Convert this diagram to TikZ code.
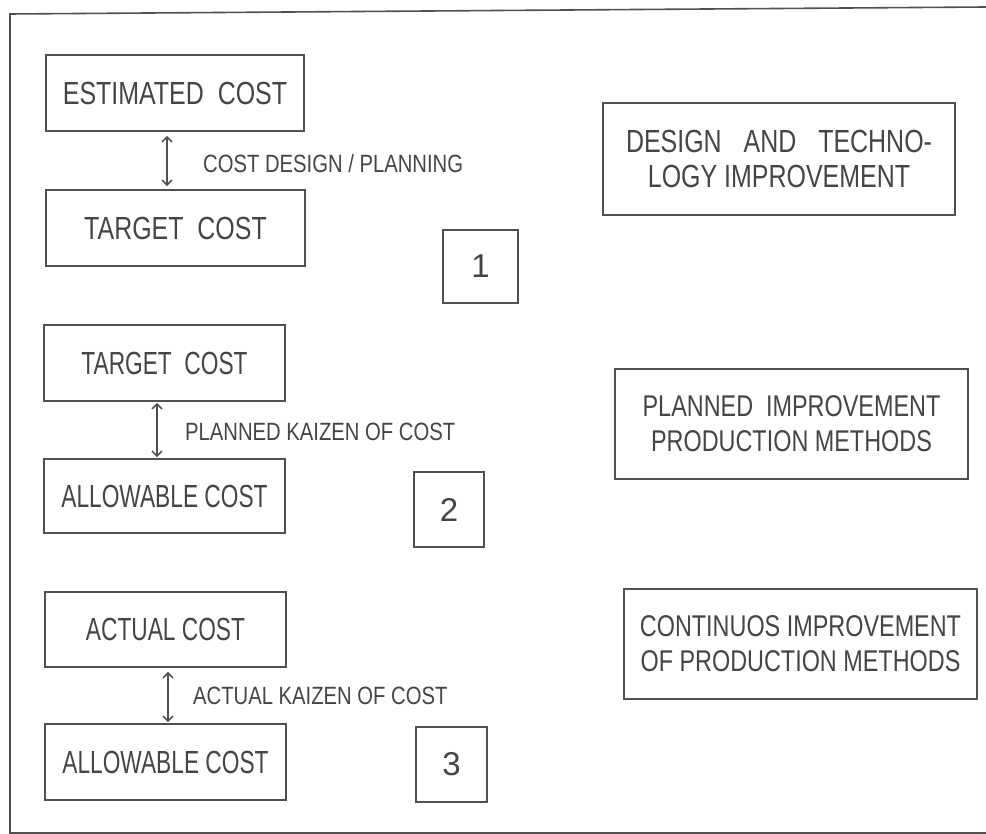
\documentclass[tikz,border=0pt]{standalone}
\usepackage{fontspec}
\setmainfont{Liberation Sans}
\newfontfamily\condA[FakeStretch=0.78]{Liberation Sans}
\newfontfamily\condB[FakeStretch=0.71]{Liberation Sans}
\newfontfamily\condL[FakeStretch=0.81]{Liberation Sans}
\newfontfamily\condR[FakeStretch=0.78]{Liberation Sans}
\usetikzlibrary{arrows.meta}
\definecolor{ink}{HTML}{505050}
\definecolor{txt}{HTML}{454545}
\begin{document}
\begin{tikzpicture}[x=1pt,y=-1pt,
  costbox/.style={draw=ink,line width=1.6pt,inner sep=0pt,text=txt},
  grpone/.style={costbox,font=\condA\fontsize{32}{36}\selectfont},
  grpother/.style={costbox,font=\condB\fontsize{32}{36}\selectfont},
  numbox/.style={costbox,font=\fontsize{33}{36}\selectfont},
  rightbox/.style={costbox,align=center,font=\condR\fontsize{30}{35}\selectfont},
  lbl/.style={inner sep=0pt,anchor=base west,text=txt,font=\condL\fontsize{25}{28}\selectfont},
  dblarrow/.style={draw=ink,line width=1.6pt,{Straight Barb[length=5pt,width=10pt]}-{Straight Barb[length=5pt,width=10pt]}}]
\useasboundingbox (0,0) rectangle (986,834);
% outer frame (open on the right)
\coordinate (ftr) at (986,7);
\coordinate (ftl) at (10,14);
\coordinate (fbl) at (10,833);
\coordinate (fbr) at (986,833);
\draw[ink,line width=1.6pt] (ftr) -- (ftl) -- (fbl) -- (fbr);

% group 1
\node[grpone,minimum width=258pt,minimum height=76pt] (est) at (175,93) {ESTIMATED~~COST};
\node[grpone,minimum width=259pt,minimum height=76pt] (tc1) at (175.5,228) {TARGET~~COST};
\coordinate (a1) at (167,0);
\draw[dblarrow,shorten <=4pt,shorten >=3pt] (est.south -| a1) -- (tc1.north -| a1);
\node[lbl] (l1) at (203,173) {COST DESIGN / PLANNING};
\node[numbox,minimum width=75pt,minimum height=73pt] (n1) at (480.5,266.5) {1};
\node[rightbox,minimum width=352pt,minimum height=112pt,font=\condR\fontsize{32}{35}\selectfont] (r1) at (779,159)
  {\makebox[306pt][s]{DESIGN AND TECHNO-}\\LOGY IMPROVEMENT};

% group 2
\node[grpother,minimum width=241pt,minimum height=76pt] (tc2) at (164.5,363) {TARGET~~COST};
\node[grpother,minimum width=241pt,minimum height=74pt] (al2) at (164.5,496) {ALLOWABLE COST};
\coordinate (a2) at (157,0);
\draw[dblarrow,shorten <=1pt,shorten >=1pt] (tc2.south -| a2) -- (al2.north -| a2);
\node[lbl] (l2) at (185,440) {PLANNED KAIZEN OF COST};
\node[numbox,minimum width=70pt,minimum height=75pt] (n2) at (449,509.5) {2};
\node[rightbox,minimum width=353pt,minimum height=110pt] (r2) at (791.5,424)
  {PLANNED~~IMPROVEMENT\\PRODUCTION METHODS};

% group 3
\node[grpother,minimum width=241pt,minimum height=75pt] (ac3) at (165.5,629.5) {ACTUAL COST};
\node[grpother,minimum width=241pt,minimum height=76pt] (al3) at (165.5,762) {ALLOWABLE COST};
\coordinate (a3) at (168,0);
\draw[dblarrow,shorten <=4pt,shorten >=1pt] (ac3.south -| a3) -- (al3.north -| a3);
\node[lbl] (l3) at (193,704) {ACTUAL KAIZEN OF COST};
\node[numbox,minimum width=71pt,minimum height=75pt] (n3) at (451.5,764.5) {3};
\node[rightbox,minimum width=353pt,minimum height=110pt] (r3) at (800.5,644)
  {CONTINUOS IMPROVEMENT\\OF PRODUCTION METHODS};
\end{tikzpicture}
\end{document}
